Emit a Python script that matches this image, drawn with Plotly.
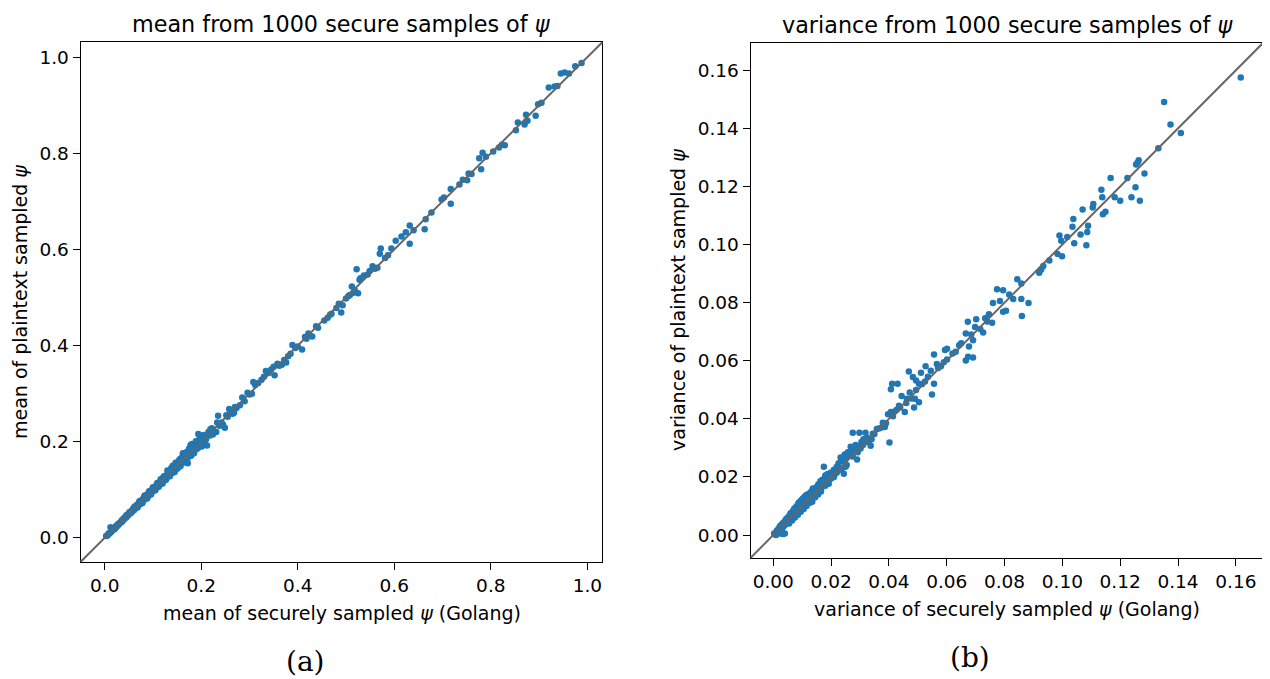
import plotly.graph_objects as go

# The page body has an 8px margin, so the figure is drawn 8px smaller and
# all reference pixel positions are shifted by that offset.
OFF = 8
W, H = 1270 - OFF, 679 - OFF

# ---- data (a): mean ----
mean_secure = [
    0.003, 0.006, 0.008, 0.010, 0.012, 0.013, 0.015, 0.017, 0.019, 0.021, 0.023, 0.025, 0.027, 0.029,
    0.031, 0.033, 0.035, 0.037, 0.039, 0.041, 0.043, 0.045, 0.047, 0.049, 0.051, 0.053, 0.055, 0.057,
    0.059, 0.061, 0.063, 0.065, 0.067, 0.069, 0.071, 0.073, 0.075, 0.077, 0.079, 0.081, 0.083, 0.085,
    0.087, 0.089, 0.091, 0.093, 0.095, 0.097, 0.099, 0.101, 0.104, 0.106, 0.108, 0.110, 0.113, 0.115,
    0.117, 0.119, 0.121, 0.124, 0.126, 0.128, 0.130, 0.132, 0.134, 0.136, 0.138, 0.140, 0.142, 0.144,
    0.146, 0.148, 0.150, 0.152, 0.154, 0.156, 0.158, 0.160, 0.162, 0.164, 0.166, 0.168, 0.170, 0.172,
    0.174, 0.176, 0.178, 0.180, 0.182, 0.184, 0.186, 0.188, 0.190, 0.192, 0.194, 0.196, 0.198, 0.200,
    0.203, 0.206, 0.209, 0.212, 0.215, 0.218, 0.222, 0.226, 0.231, 0.235, 0.238, 0.242, 0.249, 0.252,
    0.255, 0.260, 0.265, 0.270, 0.273, 0.280, 0.290, 0.296, 0.300, 0.308, 0.312, 0.325, 0.330, 0.334,
    0.340, 0.350, 0.352, 0.358, 0.367, 0.376, 0.380, 0.385, 0.389, 0.395, 0.409, 0.415, 0.422, 0.426,
    0.430, 0.442, 0.455, 0.462, 0.467, 0.480, 0.490, 0.493, 0.500, 0.505, 0.508, 0.512, 0.518, 0.522,
    0.525, 0.528, 0.537, 0.549, 0.555, 0.560, 0.570, 0.572, 0.581, 0.587, 0.594, 0.603, 0.615, 0.624,
    0.632, 0.632, 0.640, 0.663, 0.665, 0.677, 0.698, 0.703, 0.717, 0.717, 0.735, 0.742, 0.751, 0.754,
    0.760, 0.776, 0.780, 0.783, 0.790, 0.805, 0.817, 0.823, 0.829, 0.852, 0.856, 0.870, 0.873, 0.876,
    0.893, 0.898, 0.905, 0.920, 0.932, 0.938, 0.945, 0.953, 0.962, 0.975, 0.988,
    0.020, 0.035, 0.045, 0.055, 0.062, 0.068, 0.072, 0.078, 0.082, 0.088, 0.092, 0.096, 0.100, 0.105,
    0.109, 0.112, 0.116, 0.120, 0.123, 0.127, 0.131, 0.135, 0.137, 0.141, 0.145, 0.147, 0.151, 0.155,
    0.157, 0.161, 0.165, 0.169, 0.171, 0.175, 0.179, 0.181, 0.185, 0.189, 0.193, 0.197, 0.201, 0.205,
    0.210, 0.219, 0.224, 0.233, 0.245, 0.258, 0.268, 0.285, 0.305, 0.318, 0.345, 0.362, 0.372, 0.400,
    0.418, 0.438, 0.470, 0.485, 0.515, 0.530, 0.545, 0.565,
]
mean_plain = [
    0.004, 0.005, 0.009, 0.009, 0.022, 0.012, 0.014, 0.016, 0.020, 0.019, 0.024, 0.023, 0.028, 0.027,
    0.031, 0.032, 0.036, 0.035, 0.040, 0.039, 0.044, 0.043, 0.048, 0.047, 0.053, 0.051, 0.056, 0.055,
    0.061, 0.058, 0.064, 0.062, 0.069, 0.066, 0.073, 0.070, 0.077, 0.074, 0.081, 0.078, 0.088, 0.083,
    0.089, 0.085, 0.093, 0.090, 0.097, 0.094, 0.102, 0.098, 0.106, 0.103, 0.111, 0.107, 0.115, 0.111,
    0.120, 0.116, 0.125, 0.120, 0.129, 0.124, 0.140, 0.128, 0.137, 0.133, 0.145, 0.135, 0.146, 0.140,
    0.150, 0.143, 0.156, 0.148, 0.160, 0.151, 0.165, 0.155, 0.176, 0.160, 0.171, 0.162, 0.175, 0.155,
    0.182, 0.170, 0.193, 0.174, 0.187, 0.179, 0.192, 0.183, 0.198, 0.186, 0.216, 0.192, 0.203, 0.195,
    0.205, 0.200, 0.210, 0.192, 0.220, 0.213, 0.228, 0.222, 0.220, 0.254, 0.233, 0.240, 0.229, 0.255,
    0.252, 0.262, 0.258, 0.272, 0.270, 0.276, 0.284, 0.302, 0.298, 0.324, 0.318, 0.329, 0.335, 0.347,
    0.343, 0.356, 0.338, 0.362, 0.360, 0.365, 0.378, 0.383, 0.401, 0.395, 0.392, 0.418, 0.425, 0.420,
    0.419, 0.437, 0.452, 0.458, 0.464, 0.478, 0.469, 0.484, 0.498, 0.503, 0.505, 0.523, 0.515, 0.559,
    0.509, 0.537, 0.546, 0.555, 0.565, 0.560, 0.591, 0.602, 0.582, 0.588, 0.602, 0.618, 0.627, 0.636,
    0.612, 0.650, 0.640, 0.642, 0.663, 0.677, 0.704, 0.708, 0.726, 0.695, 0.735, 0.745, 0.744, 0.758,
    0.757, 0.790, 0.767, 0.801, 0.793, 0.804, 0.812, 0.818, 0.817, 0.848, 0.864, 0.860, 0.880, 0.868,
    0.878, 0.902, 0.905, 0.937, 0.939, 0.940, 0.966, 0.968, 0.966, 0.981, 0.988,
    0.018, 0.033, 0.047, 0.052, 0.065, 0.063, 0.076, 0.072, 0.086, 0.082, 0.097, 0.090, 0.105, 0.099,
    0.114, 0.106, 0.122, 0.113, 0.128, 0.121, 0.135, 0.128, 0.142, 0.150, 0.137, 0.156, 0.144, 0.163,
    0.149, 0.168, 0.157, 0.178, 0.163, 0.186, 0.171, 0.195, 0.176, 0.201, 0.187, 0.209, 0.190, 0.214,
    0.205, 0.226, 0.215, 0.240, 0.236, 0.268, 0.260, 0.292, 0.300, 0.322, 0.350, 0.358, 0.370, 0.398,
    0.414, 0.440, 0.466, 0.487, 0.510, 0.540, 0.548, 0.562,
]

# ---- data (b): variance ----
var_secure = [
    0.0003, 0.0008, 0.0012, 0.0015, 0.0018, 0.0020, 0.0023, 0.0025, 0.0028, 0.0030, 0.0032, 0.0034,
    0.0036, 0.0038, 0.0040, 0.0042, 0.0045, 0.0047, 0.0050, 0.0052, 0.0055, 0.0057, 0.0060, 0.0062,
    0.0065, 0.0067, 0.0070, 0.0072, 0.0075, 0.0077, 0.0080, 0.0082, 0.0085, 0.0087, 0.0090, 0.0092,
    0.0095, 0.0097, 0.0100, 0.0102, 0.0105, 0.0107, 0.0110, 0.0112, 0.0115, 0.0117, 0.0120, 0.0122,
    0.0125, 0.0127, 0.0130, 0.0132, 0.0135, 0.0137, 0.0140, 0.0143, 0.0146, 0.0150, 0.0153, 0.0156,
    0.0160, 0.0163, 0.0166, 0.0170, 0.0172, 0.0175, 0.0178, 0.0180, 0.0185, 0.0188, 0.0192, 0.0195,
    0.0200, 0.0205, 0.0210, 0.0215, 0.0220, 0.0226, 0.0233, 0.0238, 0.0244, 0.0247, 0.0250, 0.0254,
    0.0258, 0.0262, 0.0268, 0.0272, 0.0275, 0.0280, 0.0285, 0.0290, 0.0296, 0.0298, 0.0305, 0.0310,
    0.0316, 0.0319, 0.0325, 0.0330, 0.0337, 0.0344, 0.0350, 0.0358, 0.0365, 0.0379, 0.0386, 0.0397,
    0.0402, 0.0407, 0.0407, 0.0411, 0.0414, 0.0427, 0.0430, 0.0439, 0.0444, 0.0455, 0.0462, 0.0469,
    0.0472, 0.0483, 0.0487, 0.0490, 0.0494, 0.0494, 0.0504, 0.0504, 0.0511, 0.0525, 0.0527, 0.0545,
    0.0549, 0.0556, 0.0556, 0.0566, 0.0580, 0.0594, 0.0601, 0.0601, 0.0631, 0.0643, 0.0666, 0.0666,
    0.0673, 0.0674, 0.0677, 0.0691, 0.0691, 0.0698, 0.0702, 0.0716, 0.0726, 0.0733, 0.0746, 0.0757,
    0.0760, 0.0774, 0.0784, 0.0795, 0.0795, 0.0805, 0.0816, 0.0830, 0.0844, 0.0858, 0.0858, 0.0860,
    0.0883, 0.0920, 0.0927, 0.0934, 0.0955, 0.0983, 0.0990, 0.0996, 0.0999, 0.1017, 0.1035, 0.1038,
    0.1041, 0.1063, 0.1070, 0.1083, 0.1086, 0.1089, 0.1105, 0.1107, 0.1135, 0.1138, 0.1140, 0.1149,
    0.1167, 0.1181, 0.1200, 0.1225, 0.1239, 0.1253, 0.1255, 0.1260, 0.1264, 0.1268, 0.1284, 0.1332,
    0.1352, 0.1374, 0.1410, 0.1617,
    0.0010, 0.0020, 0.0030, 0.0040, 0.0045, 0.0055, 0.0060, 0.0065, 0.0070, 0.0075, 0.0080, 0.0085,
    0.0090, 0.0095, 0.0100, 0.0105, 0.0110, 0.0115, 0.0120, 0.0125, 0.0130, 0.0135, 0.0140, 0.0145,
    0.0150, 0.0155, 0.0160, 0.0165, 0.0170, 0.0180, 0.0185, 0.0190, 0.0200, 0.0210, 0.0220, 0.0230,
    0.0240, 0.0250, 0.0265, 0.0275, 0.0282, 0.0292, 0.0302, 0.0312, 0.0340, 0.0375, 0.0390, 0.0420,
    0.0435, 0.0460, 0.0478, 0.0515, 0.0535, 0.0570, 0.0590, 0.0620, 0.0650, 0.0685, 0.0740,
]
var_plain = [
    0.0005, 0.0002, 0.0015, 0.0008, 0.0022, 0.0010, 0.0030, 0.0005, 0.0035, 0.0020, 0.0040, 0.0004,
    0.0030, 0.0045, 0.0035, 0.0050, 0.0040, 0.0055, 0.0045, 0.0062, 0.0050, 0.0068, 0.0055, 0.0075,
    0.0060, 0.0080, 0.0065, 0.0090, 0.0070, 0.0095, 0.0075, 0.0100, 0.0082, 0.0110, 0.0088, 0.0115,
    0.0092, 0.0120, 0.0098, 0.0125, 0.0105, 0.0130, 0.0110, 0.0135, 0.0115, 0.0140, 0.0120, 0.0138,
    0.0125, 0.0145, 0.0118, 0.0150, 0.0128, 0.0160, 0.0135, 0.0148, 0.0140, 0.0155, 0.0145, 0.0175,
    0.0158, 0.0185, 0.0160, 0.0190, 0.0175, 0.0235, 0.0195, 0.0205, 0.0195, 0.0210, 0.0177, 0.0205,
    0.0215, 0.0199, 0.0225, 0.0212, 0.0235, 0.0247, 0.0267, 0.0230, 0.0211, 0.0277, 0.0262, 0.0241,
    0.0285, 0.0272, 0.0304, 0.0290, 0.0352, 0.0295, 0.0310, 0.0260, 0.0304, 0.0352, 0.0320, 0.0310,
    0.0319, 0.0352, 0.0335, 0.0320, 0.0307, 0.0349, 0.0348, 0.0365, 0.0367, 0.0387, 0.0372, 0.0416,
    0.0319, 0.0502, 0.0424, 0.0521, 0.0409, 0.0431, 0.0521, 0.0439, 0.0479, 0.0424, 0.0469, 0.0563,
    0.0491, 0.0544, 0.0439, 0.0469, 0.0532, 0.0499, 0.0521, 0.0457, 0.0559, 0.0529, 0.0581, 0.0566,
    0.0484, 0.0622, 0.0521, 0.0589, 0.0581, 0.0637, 0.0641, 0.0604, 0.0631, 0.0653, 0.0694, 0.0601,
    0.0734, 0.0614, 0.0649, 0.0671, 0.0611, 0.0716, 0.0743, 0.0709, 0.0697, 0.0746, 0.0760, 0.0731,
    0.0799, 0.0846, 0.0806, 0.0843, 0.0769, 0.0772, 0.0828, 0.0813, 0.0881, 0.0866, 0.0813, 0.0754,
    0.0799, 0.0903, 0.0914, 0.0926, 0.0945, 0.0968, 0.1031, 0.1013, 0.0960, 0.1026, 0.1061, 0.1088,
    0.1005, 0.1035, 0.1121, 0.0998, 0.1043, 0.1065, 0.1128, 0.1140, 0.1189, 0.1163, 0.1104, 0.1113,
    0.1229, 0.1163, 0.1151, 0.1229, 0.1163, 0.1197, 0.1276, 0.1282, 0.1290, 0.1151, 0.1245, 0.1332,
    0.1491, 0.1413, 0.1384, 0.1575,
    0.0000, 0.0020, 0.0010, 0.0005, 0.0055, 0.0040, 0.0075, 0.0050, 0.0085, 0.0060, 0.0095, 0.0070,
    0.0105, 0.0080, 0.0115, 0.0090, 0.0125, 0.0100, 0.0130, 0.0110, 0.0140, 0.0115, 0.0150, 0.0130,
    0.0165, 0.0140, 0.0170, 0.0150, 0.0180, 0.0170, 0.0205, 0.0185, 0.0195, 0.0200, 0.0215, 0.0225,
    0.0255, 0.0235, 0.0280, 0.0270, 0.0300, 0.0285, 0.0298, 0.0330, 0.0330, 0.0370, 0.0385, 0.0425,
    0.0445, 0.0455, 0.0470, 0.0520, 0.0545, 0.0575, 0.0595, 0.0625, 0.0660, 0.0690, 0.0735,
]

mean_lim = [-0.0497, 1.031]
var_lim = [-0.0078, 0.1694]
mean_ticks = [0.0, 0.2, 0.4, 0.6, 0.8, 1.0]
var_ticks = [0.00, 0.02, 0.04, 0.06, 0.08, 0.10, 0.12, 0.14, 0.16]

BLUE = "#1f77b4"
FONT = "DejaVu Sans"

fig = go.Figure()
fig.add_trace(go.Scatter(x=mean_secure, y=mean_plain, mode="markers",
                         marker=dict(color=BLUE, size=6.5, line=dict(width=0)),
                         xaxis="x", yaxis="y", showlegend=False))
fig.add_trace(go.Scatter(x=var_secure, y=var_plain, mode="markers",
                         marker=dict(color=BLUE, size=6.5, line=dict(width=0)),
                         xaxis="x2", yaxis="y2", showlegend=False))


def px(x):
    return (x - OFF) / W


def py(y):
    return 1 - (y - OFF) / H


axis_common = dict(showline=True, mirror=True, linecolor="black", linewidth=1.3,
                   ticks="outside", ticklen=7, tickwidth=1.3, tickcolor="black",
                   showgrid=False, zeroline=False,
                   tickfont=dict(family=FONT, size=18.5, color="black"))

fig.update_layout(
    width=W, height=H,
    margin=dict(l=0, r=0, t=0, b=0),
    paper_bgcolor="white", plot_bgcolor="white",
    xaxis=dict(domain=[px(80.7), px(602.3)], range=mean_lim, tickvals=mean_ticks,
               ticktext=[f"{v:.1f}" for v in mean_ticks], anchor="y", **axis_common),
    yaxis=dict(domain=[py(561.7), py(42.3)], range=mean_lim, tickvals=mean_ticks,
               ticktext=[f"{v:.1f}" for v in mean_ticks], anchor="x", **axis_common),
    xaxis2=dict(domain=[px(750.7), px(1263)], range=var_lim, tickvals=var_ticks,
                ticktext=[f"{v:.2f}" for v in var_ticks], anchor="y2", **axis_common),
    yaxis2=dict(domain=[py(557.7), py(43)], range=var_lim, tickvals=var_ticks,
                ticktext=[f"{v:.2f}" for v in var_ticks], anchor="x2", **axis_common),
)

# y = x reference lines (corner to corner, equal ranges)
for xr, yr in (("x domain", "y domain"), ("x2 domain", "y2 domain")):
    fig.add_shape(type="line", xref=xr, yref=yr, x0=0, y0=0, x1=1, y1=1,
                  line=dict(color="#666666", width=2), layer="above")

texts = [
    ("mean from 1000 secure samples of <i>ψ</i>", 341.5, 24, 22.3, FONT, 0),
    ("variance from 1000 secure samples of <i>ψ</i>", 1007, 25, 22.3, FONT, 0),
    ("mean of securely sampled <i>ψ</i> (Golang)", 341.5, 613, 19, FONT, 0),
    ("variance of securely sampled <i>ψ</i> (Golang)", 1007, 609, 19, FONT, 0),
    ("mean of plaintext sampled <i>ψ</i>", 20, 302, 19, FONT, -90),
    ("variance of plaintext sampled <i>ψ</i>", 678, 300, 19, FONT, -90),
    ("(a)", 305, 661, 28, "DejaVu Serif", 0),
    ("(b)", 970, 657, 28, "DejaVu Serif", 0),
]
for t, x, y, s, f, ang in texts:
    fig.add_annotation(text=t, x=px(x), y=py(y), xref="paper", yref="paper",
                       xanchor="center", yanchor="middle", showarrow=False,
                       textangle=ang, font=dict(family=f, size=s, color="black"))

fig.write_html("out.html")
